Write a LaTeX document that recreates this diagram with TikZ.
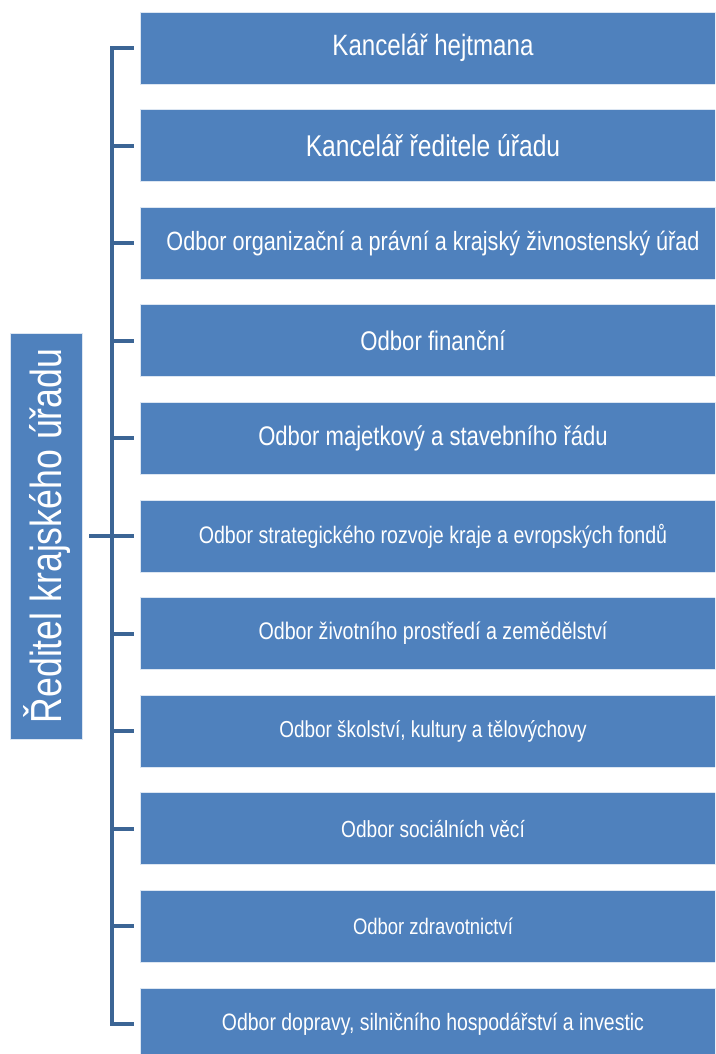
\documentclass[tikz,border=0pt]{standalone}
\usepackage{fontspec}
\setmainfont{Liberation Sans}[FakeStretch=0.82]
\usepackage{tikz}
\usetikzlibrary{calc}
\definecolor{unitblue}{HTML}{4F81BD}
\definecolor{linkblue}{HTML}{3C6595}
\tikzset{
  unit/.style={rectangle, fill=unitblue, draw=white!80!unitblue, line width=0.8pt, text=white, minimum width=586pt, minimum height=72pt, inner sep=0pt},
  link/.style={draw=linkblue, line width=4pt}
}
\newcommand{\unitbox}[4]{\node[unit, font=\fontsize{#3}{#3}\selectfont] (#1) at (433 , #2) {#4};}
\begin{document}
\begin{tikzpicture}[x=1pt,y=-1pt]
        \useasboundingbox (0,0) rectangle (715,1054);
        \clip (0,0) rectangle (715,1054);

        % director
        \node[unit, rotate=90, minimum width=406pt, minimum height=72pt, font=\fontsize{43.5}{43.5}\selectfont] (dir) at (46.7 , 536) {Ředitel krajského úřadu};

        % units
        \unitbox{u1}{48}{29.4}{Kancelář hejtmana}
        \unitbox{u2}{145.6}{30}{Kancelář ředitele úřadu}
        \unitbox{u3}{243.2}{26.4}{Odbor organizační a právní a krajský živnostenský úřad}
        \unitbox{u4}{340.8}{27}{Odbor finanční}
        \unitbox{u5}{438.4}{26.9}{Odbor majetkový a stavebního řádu}
        \unitbox{u6}{536}{23.9}{Odbor strategického rozvoje kraje a evropských fondů}
        \unitbox{u7}{633.6}{24}{Odbor životního prostředí a zemědělství}
        \unitbox{u8}{731.2}{23.1}{Odbor školství, kultury a tělovýchovy}
        \unitbox{u9}{828.8}{23.3}{Odbor sociálních věcí}
        \unitbox{u10}{926.4}{22.5}{Odbor zdravotnictví}
        \unitbox{u11}{1024}{23.7}{Odbor dopravy, silničního hospodářství a investic}

        % bracket
        \coordinate (spine) at (112 , 0);
        \draw[link, shorten <=6pt, shorten >=6pt] (u1.west) -- (u1.west -| spine) -- (u11.west -| spine) -- (u11.west);
        \draw[link, shorten <=6pt] (dir.south) -- (dir.south -| spine);
        \draw[link, shorten >=6pt] (u2.west -| spine) -- (u2.west);
        \draw[link, shorten >=6pt] (u3.west -| spine) -- (u3.west);
        \draw[link, shorten >=6pt] (u4.west -| spine) -- (u4.west);
        \draw[link, shorten >=6pt] (u5.west -| spine) -- (u5.west);
        \draw[link, shorten >=6pt] (u6.west -| spine) -- (u6.west);
        \draw[link, shorten >=6pt] (u7.west -| spine) -- (u7.west);
        \draw[link, shorten >=6pt] (u8.west -| spine) -- (u8.west);
        \draw[link, shorten >=6pt] (u9.west -| spine) -- (u9.west);
        \draw[link, shorten >=6pt] (u10.west -| spine) -- (u10.west);

\end{tikzpicture}
\end{document}
